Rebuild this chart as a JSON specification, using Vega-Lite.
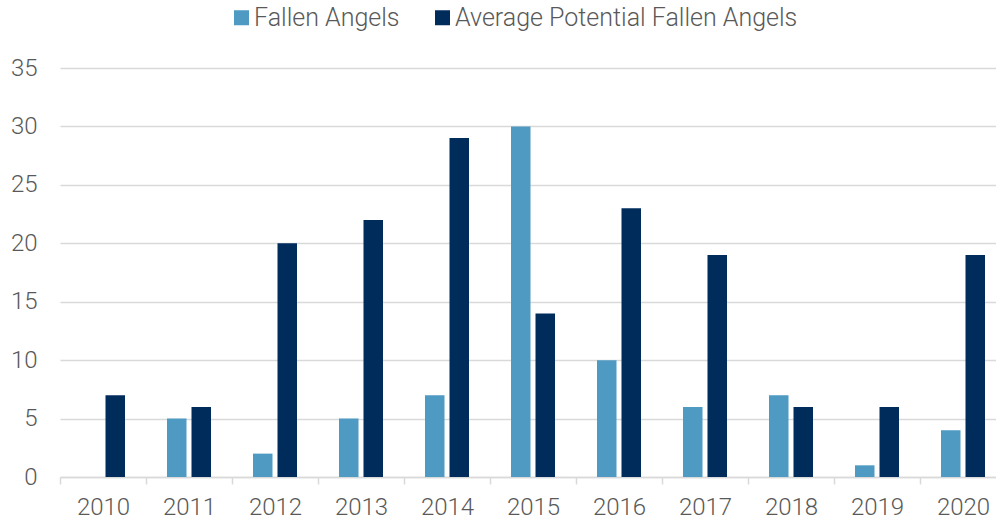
{
  "$schema": "https://vega.github.io/schema/vega-lite/v6.json",
  "autosize": "none",
  "width": 936,
  "height": 409,
  "padding": {"left": 60, "top": 68, "right": 0, "bottom": 43},
  "background": "white",
  "config": {
    "view": {"stroke": null},
    "font": "Roboto",
    "axis": {"labelFont": "Roboto", "labelFontWeight": 300},
    "legend": {"labelFont": "Roboto", "labelFontWeight": 300}
  },
  "data": {
    "values": [
      {"year": "2010", "series": "Average Potential Fallen Angels", "value": 7},
      {"year": "2011", "series": "Fallen Angels", "value": 5},
      {"year": "2011", "series": "Average Potential Fallen Angels", "value": 6},
      {"year": "2012", "series": "Fallen Angels", "value": 2},
      {"year": "2012", "series": "Average Potential Fallen Angels", "value": 20},
      {"year": "2013", "series": "Fallen Angels", "value": 5},
      {"year": "2013", "series": "Average Potential Fallen Angels", "value": 22},
      {"year": "2014", "series": "Fallen Angels", "value": 7},
      {"year": "2014", "series": "Average Potential Fallen Angels", "value": 29},
      {"year": "2015", "series": "Fallen Angels", "value": 30},
      {"year": "2015", "series": "Average Potential Fallen Angels", "value": 14},
      {"year": "2016", "series": "Fallen Angels", "value": 10},
      {"year": "2016", "series": "Average Potential Fallen Angels", "value": 23},
      {"year": "2017", "series": "Fallen Angels", "value": 6},
      {"year": "2017", "series": "Average Potential Fallen Angels", "value": 19},
      {"year": "2018", "series": "Fallen Angels", "value": 7},
      {"year": "2018", "series": "Average Potential Fallen Angels", "value": 6},
      {"year": "2019", "series": "Fallen Angels", "value": 1},
      {"year": "2019", "series": "Average Potential Fallen Angels", "value": 6},
      {"year": "2020", "series": "Fallen Angels", "value": 4},
      {"year": "2020", "series": "Average Potential Fallen Angels", "value": 19}
    ]
  },
  "mark": {"type": "bar"},
  "encoding": {
    "x": {
      "field": "year",
      "type": "nominal",
      "scale": {"range": [0, 946], "paddingInner": 0, "paddingOuter": 0},
      "axis": {
        "title": null,
        "labelAngle": 0,
        "labelFontSize": 24,
        "labelColor": "#595959",
        "labelPadding": 11,
        "tickBand": "extent",
        "tickColor": "#d9d9d9",
        "tickWidth": 1.5,
        "tickSize": 7,
        "domainColor": "#d9d9d9",
        "domainWidth": 1.5,
        "grid": false
      }
    },
    "xOffset": {
      "field": "series",
      "type": "nominal",
      "sort": ["Fallen Angels", "Average Potential Fallen Angels"],
      "scale": {"domain": ["Fallen Angels", "Average Potential Fallen Angels"], "paddingInner": 0.204, "paddingOuter": 0.857}
    },
    "y": {
      "field": "value",
      "type": "quantitative",
      "scale": {"domain": [0, 35]},
      "axis": {
        "title": null,
        "values": [0, 5, 10, 15, 20, 25, 30, 35],
        "labelFontSize": 24,
        "labelColor": "#595959",
        "labelPadding": 23,
        "ticks": false,
        "tickSize": 0,
        "domain": false,
        "gridColor": "#d9d9d9",
        "gridWidth": 1.5
      }
    },
    "color": {
      "field": "series",
      "type": "nominal",
      "sort": ["Fallen Angels", "Average Potential Fallen Angels"],
      "scale": {"domain": ["Fallen Angels", "Average Potential Fallen Angels"], "range": ["#4e9ac3", "#002c5c"]},
      "legend": {
        "title": null,
        "orient": "none",
        "direction": "horizontal",
        "legendX": 169,
        "legendY": -63,
        "symbolType": "square",
        "symbolSize": 225,
        "symbolStrokeWidth": 0,
        "labelFontSize": 25,
        "labelColor": "#595959",
        "labelOffset": 0,
        "labelLimit": 0,
        "columnPadding": 30
      }
    }
  }
}
